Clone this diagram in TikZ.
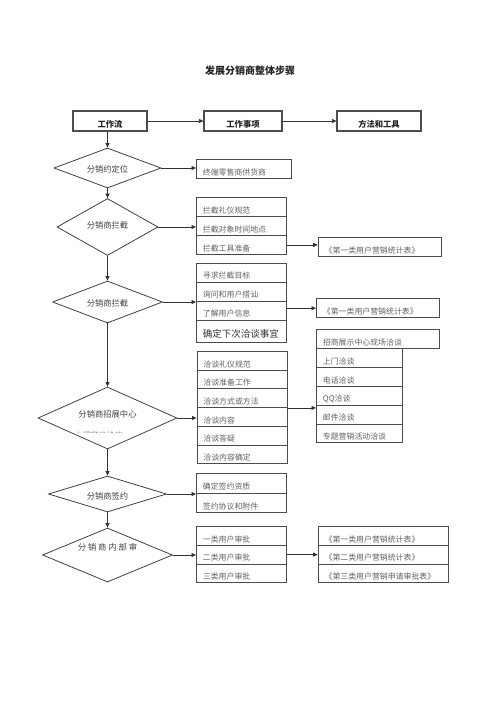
\documentclass[tikz,border=0pt]{standalone}
\usepackage{fontspec}
\setmainfont{Noto Sans CJK SC}
\usetikzlibrary{shapes.geometric,arrows.meta}
\def\lspc{\kern1.9pt}
\begin{document}
\begin{tikzpicture}[x=1pt,y=-1pt,
  ln/.style={draw=black!80, line width=0.75pt},
  arr/.style={ln, -{Triangle[length=4.5pt,width=4pt]}},
  hbox/.style={draw=black!70, line width=1.1pt, minimum height=20pt, inner sep=0pt,
    font=\fontsize{8.3}{9}\selectfont\bfseries, text=black!85, text height=12.2pt, text depth=0pt},
  dia/.style={diamond, draw=black!75, line width=0.8pt, inner sep=0pt,
    font=\fontsize{8.3}{9}\selectfont, text=black!75},
  rowbox/.style={draw=black!70, line width=0.8pt, anchor=north west, inner xsep=6.5pt, inner ysep=0pt,
    align=left, text height=12.5pt, text depth=0pt, font=\fontsize{7.9}{9}\selectfont, text=black!62},
  w90/.style={text width=77pt},
  w95/.style={text width=82pt},
  w86/.style={text width=73pt},
  w123/.style={text width=110pt},
  w130/.style={text width=117pt},
]
\useasboundingbox (0,0) rectangle (500,707);

% title
\node[font=\fontsize{10}{12}\selectfont\bfseries, text=black!85] (title) at (250,71) {发展分销商整体步骤};

% header
\node[hbox, minimum width=74pt] (h1) at (110,121) {工作流};
\node[hbox, minimum width=78pt] (h2) at (243,121) {工作事项};
\node[hbox, minimum width=84pt] (h3) at (379,121) {方法和工具};
\draw[arr] (h1.east) -- (h2.west);
\draw[arr] (h2.east) -- (h3.west);

% diamonds
\node[dia, minimum width=107pt, minimum height=40pt, label={[yshift=-1pt,font=\fontsize{8.3}{9}\selectfont,text=black!75]center:分销约定位}] (d1) at (107.5,168) {};
\node[dia, minimum width=101pt, minimum height=57pt, label={[yshift=2pt,font=\fontsize{8.3}{9}\selectfont,text=black!75]center:分销商拦截}] (d2) at (107.5,227) {};
\node[dia, minimum width=110pt, minimum height=42pt, label={[yshift=-1pt,font=\fontsize{8.3}{9}\selectfont,text=black!75]center:分销商拦截}] (d3) at (107.5,302) {};
\node[dia, minimum width=139pt, minimum height=62pt, label={[yshift=4pt,font=\fontsize{8.3}{9}\selectfont,text=black!75]center:分销商招展中心}] (d4) at (107.5,418) {};
\node[dia, minimum width=118pt, minimum height=36pt, label={[yshift=-2.5pt,font=\fontsize{8.3}{9}\selectfont,text=black!75]center:分销商签约}] (d5) at (107.5,494) {};
\node[dia, minimum width=130pt, minimum height=54pt, label={[yshift=8pt,font=\fontsize{8.3}{9}\selectfont,text=black!75]center:分\lspc 销\lspc 商\lspc 内\lspc 部\lspc 审}] (d6) at (107.5,555) {};

% clipped second line inside d4
\begin{scope}
\clip (60,426) rectangle (160,432.4);
\node[anchor=base west, inner sep=0pt, font=\fontsize{7.9}{9}\selectfont, text=black!55] (d4b) at (75,438.5) {上门拜访洽谈};
\end{scope}

% vertical flow
\draw[arr] (h1.south -| d1.north) -- (d1.north);
\draw[arr] (d1.south) -- (d2.north);
\draw[arr] (d2.south) -- (d3.north);
\draw[arr] (d3.south) -- (d4.north);
\draw[arr] (d4.south) -- (d5.north);
\draw[arr] (d5.south) -- (d6.north);

% step 1
\node[rowbox, w95, minimum height=19.6pt] (n1) at (196,158.7) {终端零售商供货商};
\draw[arr] (d1.east) -- (d1.east -| n1.west);

% step 2
\node[rowbox, w90, minimum height=19pt] (b1) at (196,197) {拦截礼仪规范};
\node[rowbox, w90, minimum height=19pt] (b2) at (196,216) {拦截对象时间地点};
\node[rowbox, w90, minimum height=19pt] (b3) at (196,235) {拦截工具准备};
\node[rowbox, w123, minimum height=19.3pt] (r2) at (317.7,236.7) {《第一类用户营销统计表》};
\draw[arr] (d2.east) -- (d2.east -| b2.west);
\draw[arr] (b3.east) -- (b3.east -| r2.west);

% step 3
\node[rowbox, w90, minimum height=19pt] (c1) at (196,262.5) {寻求拦截目标};
\node[rowbox, w90, minimum height=19pt] (c2) at (196,281.5) {询问和用户搭讪};
\node[rowbox, w90, minimum height=19pt] (c3) at (196,300.5) {了解用户信息};
\node[rowbox, w90, minimum height=22.3pt, font=\fontsize{9.5}{11}\selectfont, text=black!80, text height=13pt] (c4) at (196,319.5) {确定下次洽谈事宜};
\node[rowbox, w123, minimum height=19pt] (r3) at (316,298.3) {《第一类用户营销统计表》};
\draw[arr] (d3.east) -- (d3.east -| c1.west);
\draw[arr] (c3.east |- r3.west) -- (r3.west);

% step 4
\node[rowbox, w90, minimum height=18.7pt] (e1) at (196.5,351) {洽谈礼仪规范};
\node[rowbox, w90, minimum height=18.7pt] (e2) at (196.5,369.7) {洽谈准备工作};
\node[rowbox, w90, minimum height=18.7pt] (e3) at (196.5,388.4) {洽谈方式或方法};
\node[rowbox, w90, minimum height=18.7pt] (e4) at (196.5,407.1) {洽谈内容};
\node[rowbox, w90, minimum height=18.7pt] (e5) at (196.5,425.8) {洽谈答疑};
\node[rowbox, w90, minimum height=18.7pt] (e6) at (196.5,444.5) {洽谈内容确定};
\node[rowbox, w123, minimum height=19pt] (q0) at (316,329.3) {招商展示中心现场洽谈};
\node[rowbox, w86, minimum height=18.8pt] (q1) at (316,348.3) {上门洽谈};
\node[rowbox, w86, minimum height=18.8pt] (q2) at (316,367.1) {电话洽谈};
\node[rowbox, w86, minimum height=18.8pt] (q3) at (316,385.9) {QQ洽谈};
\node[rowbox, w86, minimum height=18.8pt] (q4) at (316,404.7) {邮件洽谈};
\node[rowbox, w86, minimum height=18.8pt] (q5) at (316,423.5) {专题营销活动洽谈};
\draw[arr] (d4.east) -- (d4.east -| e4.west);
\draw[arr] (e3.south east) -- (e3.south east -| q4.west);

% step 5
\node[rowbox, w90, minimum height=19.5pt] (f1) at (196,473.3) {确定签约资质};
\node[rowbox, w90, minimum height=19.5pt] (f2) at (196,492.8) {签约协议和附件};
\draw[arr] (d5.east) -- (d5.east -| f1.west);

% step 6
\node[rowbox, w90, minimum height=18.8pt] (g1) at (196,526) {一类用户审批};
\node[rowbox, w90, minimum height=18.8pt] (g2) at (196,544.8) {二类用户审批};
\node[rowbox, w90, minimum height=18.8pt] (g3) at (196,563.6) {三类用户审批};
\node[rowbox, w130, minimum height=18.8pt] (s1) at (317.7,526) {《第一类用户营销统计表》};
\node[rowbox, w130, minimum height=18.8pt] (s2) at (317.7,544.8) {《第二类用户营销统计表》};
\node[rowbox, w130, minimum height=18.8pt] (s3) at (317.7,563.6) {《第三类用户营销申请审批表》};
\draw[arr] (d6.east) -- (d6.east -| g2.west);
\draw[arr] (g2.east) -- (g2.east -| s2.west);
\end{tikzpicture}
\end{document}
